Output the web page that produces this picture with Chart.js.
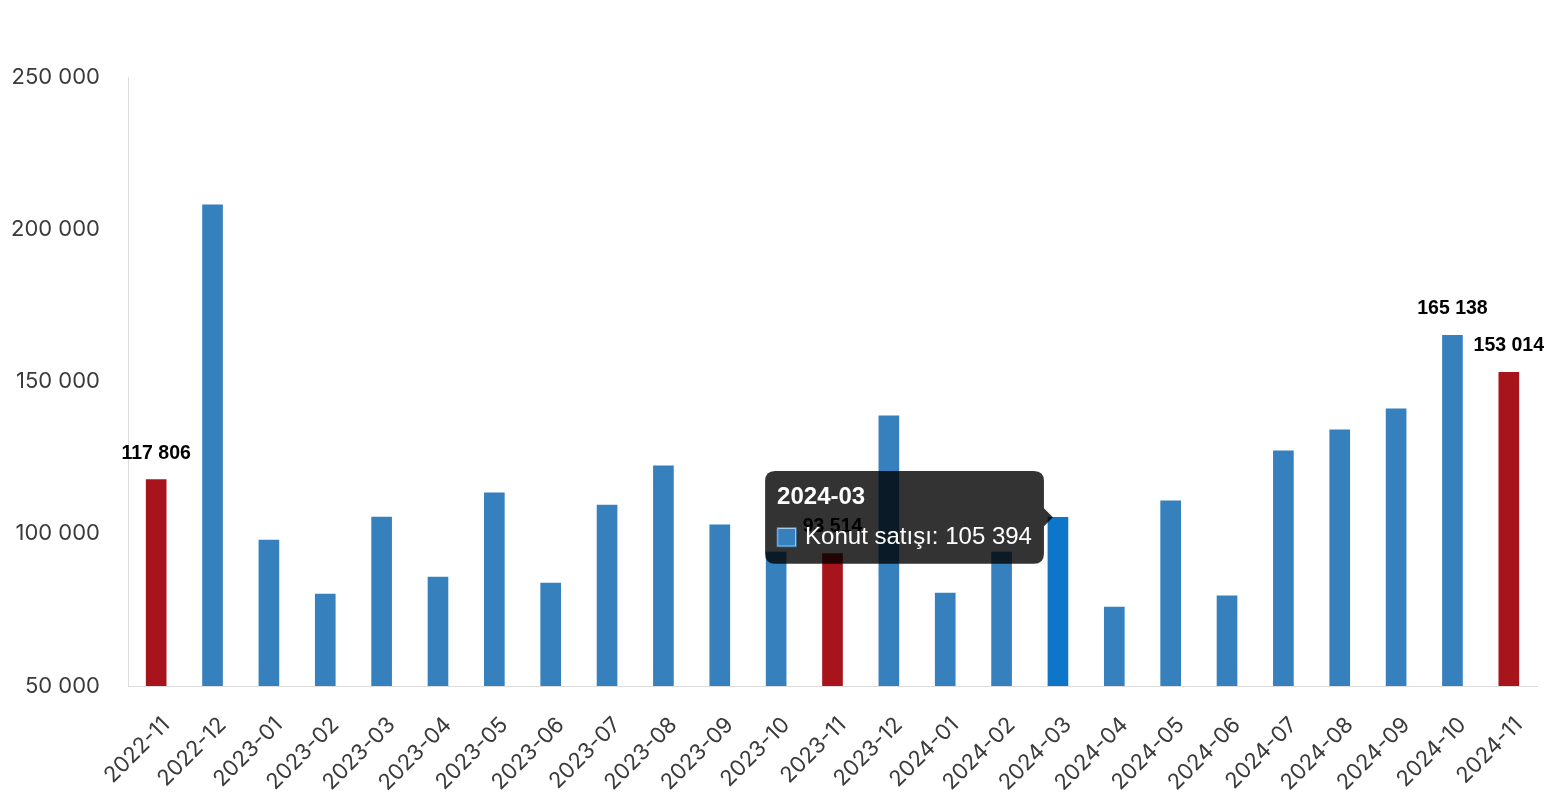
<!DOCTYPE html>
<html>
<head>
<meta charset="utf-8">
<script src="https://cdn.jsdelivr.net/npm/chart.js@4.4.1/dist/chart.umd.min.js"></script>
<style>
  html, body { margin: 0; padding: 0; background: #fff; }
  #wrap { width: 1556px; height: 800px; position: relative; }
</style>
</head>
<body>
<div id="wrap"><canvas id="chart"></canvas></div>
<script>
// monthly housing sales (Konut satışı)
const months = ['2022-11', '2022-12', '2023-01', '2023-02', '2023-03', '2023-04', '2023-05', '2023-06',
  '2023-07', '2023-08', '2023-09', '2023-10', '2023-11', '2023-12', '2024-01', '2024-02', '2024-03',
  '2024-04', '2024-05', '2024-06', '2024-07', '2024-08', '2024-09', '2024-10', '2024-11'];
const sales = [117806, 208000, 97900, 80200, 105500, 85800, 113400, 83800,
  109400, 122300, 102900, 94000, 93514, 138700, 80500, 94000, 105394,
  75900, 110800, 79600, 127200, 134100, 141000, 165138, 153014];
const redMonths = ['2022-11', '2023-11', '2024-11'];
const labelledMonths = ['2022-11', '2023-11', '2024-10', '2024-11'];
const yTicks = [50000, 100000, 150000, 200000, 250000];
const activeMonth = '2024-03';

const BLUE = '#3680bd';
const RED = '#a8141c';
const HOVER_BLUE = '#0e76c8';

const fmt = v => String(Math.round(v)).replace(/\B(?=(\d{3})+(?!\d))/g, ' ');

const barColors = months.map(m => redMonths.includes(m) ? RED : BLUE);
const hoverColors = months.map(m => redMonths.includes(m) ? RED : HOVER_BLUE);

// tooltip sits at the top of the bar
Chart.Tooltip.positioners.barTop = function(items) {
  if (!items.length) return false;
  return { x: items[0].element.x, y: items[0].element.y };
};

// value labels above selected bars
const valueLabels = {
  id: 'valueLabels',
  afterDatasetsDraw(chart) {
    const ctx = chart.ctx;
    const meta = chart.getDatasetMeta(0);
    ctx.save();
    ctx.font = 'bold 19.5px "Liberation Sans", Arial, sans-serif';
    ctx.fillStyle = '#000';
    ctx.textAlign = 'center';
    ctx.textBaseline = 'alphabetic';
    months.forEach((m, i) => {
      if (!labelledMonths.includes(m)) return;
      const bar = meta.data[i];
      ctx.fillText(fmt(sales[i]), bar.x, bar.y - 21);
    });
    ctx.restore();
  }
};

const chart = new Chart(document.getElementById('chart'), {
  type: 'bar',
  data: {
    labels: months,
    datasets: [{
      label: 'Konut satışı',
      data: sales,
      backgroundColor: barColors,
      hoverBackgroundColor: hoverColors,
      borderWidth: 0,
      barThickness: 20
    }]
  },
  options: {
    responsive: true,
    maintainAspectRatio: false,
    animation: false,
    layout: { padding: { top: 77, right: 19, bottom: 0, left: 0 } },
    events: [],
    scales: {
      x: {
        afterFit(scale) { scale.height = 114; },
        grid: { display: false, drawTicks: false },
        border: { display: true, color: '#dddddd', width: 1 },
        ticks: {
          color: '#3b3b3b',
          font: { family: 'Inter', size: 22 },
          minRotation: 45,
          maxRotation: 45,
          padding: 26,
          labelOffset: 10,
          autoSkip: false
        }
      },
      y: {
        min: 50000,
        max: 250000,
        afterFit(scale) { scale.width = 128; },
        afterBuildTicks(scale) { scale.ticks = yTicks.map(v => ({ value: v })); },
        grid: { display: false, drawTicks: false },
        border: { display: true, color: '#dddddd', width: 1 },
        ticks: {
          color: '#3b3b3b',
          font: { family: 'Inter', size: 22 },
          padding: 28,
          callback: v => fmt(v)
        }
      }
    },
    plugins: {
      legend: { display: false },
      tooltip: {
        animation: false,
        position: 'barTop',
        xAlign: 'right',
        yAlign: 'center',
        backgroundColor: 'rgba(0,0,0,0.8)',
        titleColor: '#fff',
        bodyColor: '#fff',
        titleFont: { family: '"Liberation Sans", Arial, sans-serif', size: 24, weight: 'bold' },
        bodyFont: { family: '"Liberation Sans", Arial, sans-serif', size: 24 },
        titleMarginBottom: 11,
        padding: 12,
        caretSize: 9,
        caretPadding: 5,
        cornerRadius: 10,
        boxWidth: 19,
        boxHeight: 19,
        boxPadding: 7,
        callbacks: {
          label: ctx => ctx.dataset.label + ': ' + fmt(ctx.parsed.y),
          labelColor: () => ({ borderColor: BLUE, backgroundColor: BLUE, borderWidth: 0 })
        }
      }
    }
  },
  plugins: [valueLabels]
});

const idx = months.indexOf(activeMonth);
const bar = chart.getDatasetMeta(0).data[idx];
chart.setActiveElements([{ datasetIndex: 0, index: idx }]);
chart.tooltip.setActiveElements([{ datasetIndex: 0, index: idx }], { x: bar.x, y: bar.y });
chart.update();
</script>
</body>
</html>
